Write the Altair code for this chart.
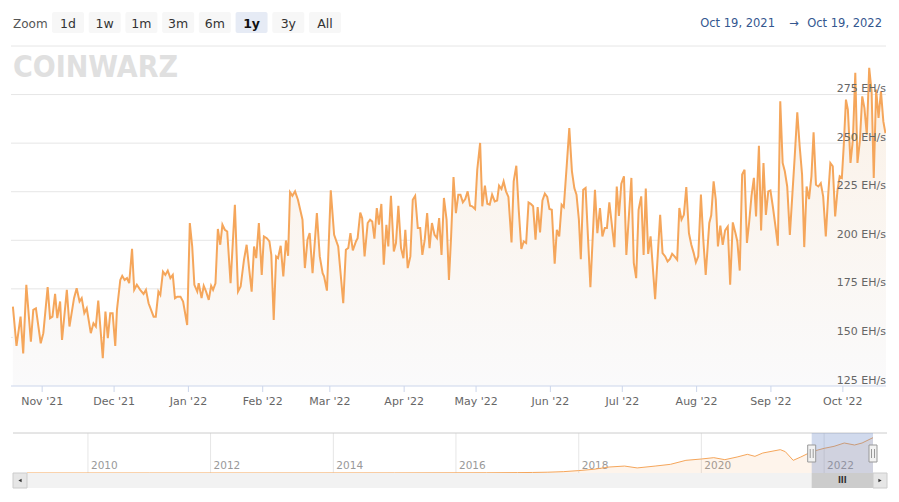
import altair as alt
import pandas as pd

# ---------------- data ----------------
READ_ORIGIN = "2021-10-19 19:00"   # day offsets below are measured from here

day_offsets = [
    0, 1.5, 3.2, 4.3, 5.6, 7.5, 8.5, 9.6, 11.6, 12.7,
    14.5, 15.5, 16.5, 17.6, 18.5, 19.7, 20.5, 22.5, 23.6, 25.5,
    26.6, 27.8, 28.7, 29.8, 30.8, 32.5, 33.6, 34.6, 35.6, 37.5,
    38.6, 39.6, 40.6, 41.6, 42.7, 43.4, 44.8, 45.6, 46.6, 47.6,
    48.5, 49.7, 50.6, 51.7, 53.1, 54.5, 55.5, 56.6, 58.7, 59.6,
    60.7, 61.5, 62.6, 63.6, 64.6, 65.7, 66.7, 67.6, 68.6, 69.9,
    71.0, 72.7, 73.8, 74.8, 75.7,
    76.9, 77.5, 78.7, 79.6, 80.6, 81.7, 82.7, 83.5, 84.5, 85.5,
    86.5, 87.4, 88.4, 89.4, 90.8, 92.6, 93.9, 95.0, 96.4, 97.5,
    98.6, 99.6, 100.6, 101.5, 102.6, 103.8, 104.7, 105.9, 107.0, 107.8,
    108.8, 109.8, 110.6, 111.7, 112.8, 113.9, 114.8, 115.6, 116.6, 117.7,
    118.9, 120.8, 121.8, 122.9, 123.8, 125.0, 126.8, 128.0, 129.2, 129.8,
    131.0, 132.6, 134.0, 135.7, 137.8, 138.9, 139.9, 140.8, 141.8, 143.1,
    143.8, 144.9, 145.7, 146.7, 148.0, 149.0, 149.9, 150.8, 151.8, 152.7,
    153.7,
    154.7, 155.8, 156.6, 157.7, 158.9, 159.8, 160.8, 161.9, 162.9, 163.7,
    164.7, 165.8, 166.8, 167.8, 168.9, 169.9, 170.8, 171.8, 172.8, 173.8,
    174.8, 175.9, 176.9, 177.8, 178.8, 179.8, 180.9, 181.9, 182.8, 183.8,
    184.8, 185.8, 186.7, 187.7, 188.7, 189.7, 190.7, 191.6, 192.8, 193.7,
    194.9, 195.8, 196.9, 197.9, 198.9, 199.9, 201.0, 202.0, 202.8, 203.8,
    204.7, 205.7, 206.7, 208.0, 208.9, 210.0, 211.0, 212.1, 213.1, 214.1,
    215.1, 216.0, 217.0, 218.0, 218.9, 219.9, 220.9, 221.9, 222.9, 223.8,
    224.8, 226.0, 226.9, 227.9, 228.9, 229.8, 231.1, 232.1, 233.2, 234.2,
    235.1, 236.1,
    236.9, 237.9, 238.9, 240.9, 242.8, 243.8, 244.9, 245.9, 246.9, 247.8,
    248.8, 250.9, 251.9, 252.8, 253.8, 254.9, 255.9, 258.0, 259.0, 260.0,
    261.0, 262.1, 263.1, 264.0, 265.0, 266.0, 267.9, 270.0, 271.0, 272.1,
    273.1, 274.1, 275.0, 276.0, 277.1, 278.0, 278.9, 279.9, 280.9, 282.0,
    283.0, 284.0, 284.9, 285.9, 287.0, 288.0, 289.0,
    290.5, 291.3, 292.3, 293.2, 294.1, 295.1, 296.1, 297.1, 298.2, 299.2,
    300.3, 301.4, 302.2, 303.2, 304.2, 305.2, 306.2, 307.1, 308.1, 309.1,
    310.0, 311.2, 312.1, 313.1, 314.1, 315.1, 316.0, 317.0, 318.1, 319.1,
    320.1, 321.1, 322.0, 323.0, 324.1, 325.1, 326.1, 327.2, 328.2, 329.2,
    330.1, 331.1, 332.1, 333.1, 334.0, 335.0, 336.0, 337.0, 338.0, 339.1,
    340.1, 341.0, 342.0, 343.0, 344.0, 344.9, 345.8, 346.6, 347.5, 348.3,
    349.4, 350.4, 351.4, 352.3, 353.3, 354.3, 355.2, 356.2, 357.2, 358.2,
    359.1, 360.1, 361.1, 362.1, 363.1, 363.9, 364.8, 365.6,
]

hashrate_ehs = [
    165.9, 145.6, 160.7, 141.8, 177.1, 147.8, 164.2, 165.0, 147.0, 152.2,
    175.9, 159.9, 160.7, 172.4, 159.9, 168.5, 148.7, 174.5, 155.6, 170.2,
    175.3, 168.5, 170.2, 162.5, 165.0, 152.2, 157.3, 155.6, 169.0, 139.3,
    163.3, 149.6, 162.5, 162.5, 145.6, 164.2, 179.6, 181.7, 179.6, 180.5,
    177.9, 195.6, 174.5, 177.1, 174.5, 172.4, 174.5, 167.6, 160.7, 160.7,
    173.6, 171.9, 183.9, 182.2, 184.4, 180.5, 182.2, 170.2, 171.0, 171.0,
    168.5, 156.4, 208.9, 196.8, 177.1,
    173.6, 177.9, 170.2, 176.6, 173.6, 169.3, 176.6, 174.5, 177.9, 205.8,
    197.7, 208.0, 205.4, 204.5, 177.9, 218.3, 173.6, 176.2, 190.0, 197.7,
    184.8, 173.6, 196.8, 190.8, 208.9, 182.2, 202.0, 201.1, 199.4, 192.5,
    159.0, 191.7, 190.8, 197.2, 181.4, 199.9, 192.0, 224.8, 222.9, 225.2,
    220.9, 210.6, 185.7, 200.3, 203.7, 183.1, 214.0, 191.7, 183.1, 181.4,
    174.1, 225.7, 202.8, 196.8, 167.6, 195.1, 196.0, 203.7, 194.8, 199.4,
    201.1, 214.3, 211.4, 191.7, 208.9, 210.6, 209.7, 200.8, 216.6, 208.0,
    218.7,
    187.4, 208.0, 196.8, 222.9, 194.2, 198.6, 217.8, 196.0, 190.8, 205.4,
    185.7, 191.7, 220.9, 222.9, 206.3, 206.3, 192.5, 200.3, 214.0, 196.0,
    208.9, 202.8, 201.1, 211.4, 192.5, 221.8, 210.6, 179.6, 202.0, 232.6,
    214.0, 223.5, 223.5, 219.5, 221.2, 225.2, 217.8, 217.5, 216.1, 236.3,
    250.1, 217.5, 228.1, 218.8, 218.3, 223.5, 220.0, 220.5, 228.1, 226.4,
    230.3, 225.2, 222.3, 198.9, 230.3, 238.4, 215.7, 195.5, 199.4, 198.6,
    219.5, 218.8, 217.5, 200.3, 217.1, 204.0, 220.5, 224.0, 222.3, 216.1,
    215.7, 187.9, 205.4, 202.0, 218.3, 217.1, 239.8, 257.8, 235.5, 226.9,
    223.5, 210.6,
    190.3, 226.0, 226.9, 175.9, 226.0, 203.7, 216.6, 202.0, 206.3, 206.3,
    219.5, 196.5, 227.7, 212.6, 229.1, 232.9, 192.5, 232.1, 188.3, 180.5,
    215.7, 222.6, 192.5, 226.6, 193.0, 202.0, 169.7, 213.1, 193.4, 191.7,
    189.1, 190.4, 193.0, 191.7, 190.0, 216.6, 210.6, 213.1, 227.4, 203.7,
    197.7, 193.4, 188.6, 191.7, 223.5, 200.3, 182.2,
    208.9, 212.9, 230.3, 220.9, 196.8, 207.6, 197.7, 205.1, 207.1, 177.1,
    209.2, 203.7, 199.4, 184.4, 233.8, 236.3, 198.6, 208.9, 222.9, 232.1,
    212.3, 248.7, 205.1, 239.8, 213.1, 225.2, 225.7, 217.4, 207.1, 197.2,
    271.6, 239.8, 235.5, 227.7, 202.8, 222.6, 242.4, 265.9, 248.4, 233.8,
    196.5, 227.7, 221.2, 232.9, 255.6, 228.6, 227.7, 229.4, 222.6, 202.0,
    223.5, 239.8, 238.1, 212.3, 226.0, 232.9, 232.1, 249.2, 272.4, 267.3,
    239.8, 251.8, 286.2, 239.8, 251.0, 274.1, 268.2, 254.4, 288.8, 276.7,
    232.1, 277.6, 263.0, 276.7, 261.2, 255.6, 256.0, 248.4,
]

nav_dates = [
    "2009-01-03", "2010-01-01", "2011-01-01", "2012-01-01", "2013-01-01",
    "2014-01-01", "2015-01-01", "2016-01-01", "2016-07-01", "2017-01-01",
    "2017-04-01", "2017-07-01", "2017-10-01", "2018-01-01", "2018-04-01",
    "2018-07-01", "2018-10-01", "2018-12-15", "2019-04-01", "2019-07-01",
    "2019-10-01", "2020-01-01", "2020-03-15", "2020-05-20", "2020-08-01",
    "2020-10-01", "2020-11-15", "2021-01-01", "2021-04-15", "2021-05-15",
    "2021-07-01", "2021-08-15", "2021-10-19", "2022-01-01", "2022-03-01",
    "2022-05-01", "2022-07-01", "2022-08-15", "2022-10-19",
]
nav_hashrate = [
    0, 0, 0, 0, 0, 0.2, 0.35, 1.2, 1.6, 3,
    4, 6, 10, 18, 28, 45, 52, 38, 52, 65,
    95, 105, 115, 100, 120, 140, 125, 150, 175, 160,
    95, 120, 160, 185, 200, 225, 210, 225, 265,
]

y_grid_values = [150, 175, 200, 225, 250, 275, 300]
y_label_values = [125, 150, 175, 200, 225, 250, 275]
y_unit = "EH/s"
month_ticks = ["2021-11-01", "2021-12-01", "2022-01-01", "2022-02-01",
               "2022-03-01", "2022-04-01", "2022-05-01", "2022-06-01",
               "2022-07-01", "2022-08-01", "2022-09-01", "2022-10-01"]
year_ticks = ["2010-01-01", "2012-01-01", "2014-01-01", "2016-01-01",
              "2018-01-01", "2020-01-01", "2022-01-01"]
zoom_label = "Zoom"
zoom_buttons = ["1d", "1w", "1m", "3m", "6m", "1y", "3y", "All"]
selected_button = "1y"
range_start = "2021-10-19"
range_end = "2022-10-19"
range_texts = ["Oct 19, 2021", "\u2192", "Oct 19, 2022"]
watermark = "COINWARZ"

# ---------------- layout / style ----------------
FONT = "DejaVu Sans"
LINE = "#f5a65b"
W, H = 875, 442
MAIN_H = 340
NAV_TOP, NAV_BOT = 387, 427
SB_BOT = 442
NAV_X0, NAV_X1 = 16, 862


def dt(s):
    t = pd.Timestamp(s)
    return alt.DateTime(year=t.year, month=t.month, date=t.day)


main_df = pd.DataFrame({
    "date": pd.Timestamp(READ_ORIGIN) + pd.to_timedelta(day_offsets, unit="D"),
    "v": hashrate_ehs,
})
nav_df = pd.DataFrame({"date": pd.to_datetime(nav_dates), "v": nav_hashrate})
grid_df = pd.DataFrame({"v": y_grid_values})
ylab_df = pd.DataFrame({"v": y_label_values,
                        "lab": [f"{v} {y_unit}" for v in y_label_values]})
month_df = pd.DataFrame({"m": pd.to_datetime(month_ticks)})
year_df = pd.DataFrame({"y": pd.to_datetime(year_ticks)})
range_df = pd.DataFrame({"s": [pd.Timestamp(range_start)], "e": [pd.Timestamp(range_end)]})
edge_df = pd.DataFrame({"d": pd.to_datetime([range_start, range_end])})
btn_df = pd.DataFrame({"b": zoom_buttons})
one = pd.DataFrame({"k": [0]})

main_x = alt.Scale(type="time", domain=[dt(range_start), dt(range_end)], range=[0, W])
main_y = alt.Scale(domain=[125, 300], range=[MAIN_H, 0], nice=False, zero=False)
nav_x = alt.Scale(type="time", domain=[dt(nav_dates[0]), dt(range_end)], range=[NAV_X0, NAV_X1])
nav_y = alt.Scale(domain=[0, 300], range=[NAV_BOT, NAV_TOP], nice=False, zero=False)
btn_x = alt.Scale(type="band", domain=zoom_buttons, range=[41, 330], paddingInner=0.13, paddingOuter=0)

gradient = alt.Gradient(
    gradient="linear",
    stops=[alt.GradientStop(color="#fbf1e6", offset=0),
           alt.GradientStop(color="#fafafb", offset=1)],
    x1=1, x2=1, y1=0, y2=1,
)

layers = []

# watermark
layers.append(alt.Chart(pd.DataFrame({"t": [watermark]})).mark_text(
    align="left", baseline="alphabetic",
    font="DejaVu Sans Condensed",
    fontSize=30, fontWeight="bold", color="#e0e0e0",
).encode(x=alt.value(2), y=alt.value(31), text="t:N"))

# main grid
layers.append(alt.Chart(grid_df).mark_rule(color="#e6e6e6", strokeWidth=1).encode(
    x=alt.value(0), x2=alt.value(W), y=alt.Y("v:Q", scale=main_y, axis=None)))

# main area + line
layers.append(alt.Chart(main_df).mark_area(clip=True, color=gradient).encode(
    x=alt.X("date:T", scale=main_x, axis=None),
    y=alt.Y("v:Q", scale=main_y, axis=None),
    y2=alt.Y2(datum=125)))
layers.append(alt.Chart(main_df).mark_line(clip=True, color=LINE, strokeWidth=2).encode(
    x=alt.X("date:T", scale=main_x, axis=None),
    y=alt.Y("v:Q", scale=main_y, axis=None)))

# x axis line
layers.append(alt.Chart(pd.DataFrame({"v": [125]})).mark_rule(color="#ccd6eb", strokeWidth=1).encode(
    x=alt.value(0), x2=alt.value(W), y=alt.Y("v:Q", scale=main_y, axis=None)))

# x ticks and labels
layers.append(alt.Chart(month_df).mark_rule(color="#ccd6eb", strokeWidth=1).encode(
    x=alt.X("m:T", scale=main_x, axis=None), y=alt.value(MAIN_H), y2=alt.value(MAIN_H + 6)))
layers.append(alt.Chart(month_df).mark_text(
    align="center", baseline="alphabetic", font=FONT, fontSize=11, color="#666666",
).encode(x=alt.X("m:T", scale=main_x, axis=None), y=alt.value(MAIN_H + 19),
         text=alt.Text("m:T", format="%b '%y")))

# y labels (drawn over the line, inside the plot on the right)
layers.append(alt.Chart(ylab_df).mark_text(
    align="right", baseline="alphabetic", dy=-2.5, font=FONT, fontSize=11, color="#666666",
).encode(x=alt.value(W), y=alt.Y("v:Q", scale=main_y, axis=None), text="lab:N"))

# ---------------- range selector toolbar ----------------
layers.append(alt.Chart(pd.DataFrame({"t": [zoom_label]})).mark_text(
    align="left", baseline="alphabetic", font=FONT, fontSize=12, color="#555555",
).encode(x=alt.value(2), y=alt.value(-18), text="t:N"))
layers.append(alt.Chart(btn_df).mark_rect(cornerRadius=2).encode(
    x=alt.X("b:N", scale=btn_x, axis=None), y=alt.value(-34), y2=alt.value(-13),
    color=alt.condition(alt.datum.b == selected_button, alt.value("#e6ebf5"), alt.value("#f7f7f7"))))
layers.append(alt.Chart(btn_df).transform_filter(alt.datum.b != selected_button).mark_text(
    baseline="middle", align="center", font=FONT, fontSize=12.5, color="#333333",
).encode(x=alt.X("b:N", scale=btn_x, axis=None), y=alt.value(-22.5), text="b:N"))
layers.append(alt.Chart(btn_df).transform_filter(alt.datum.b == selected_button).mark_text(
    baseline="middle", align="center", font=FONT, fontSize=12.5, fontWeight="bold", color="#111111",
).encode(x=alt.X("b:N", scale=btn_x, axis=None), y=alt.value(-22.5), text="b:N"))

for txt, xpos, al in [(range_texts[0], 764, "right"), (range_texts[1], 783, "center"),
                      (range_texts[2], 871, "right")]:
    layers.append(alt.Chart(pd.DataFrame({"t": [txt]})).mark_text(
        align=al, baseline="alphabetic", font=FONT, fontSize=11.5, color="#34578f",
    ).encode(x=alt.value(xpos), y=alt.value(-19), text="t:N"))

# ---------------- navigator ----------------
layers.append(alt.Chart(year_df).mark_rule(color="#e6e6e6", strokeWidth=1).encode(
    x=alt.X("y:T", scale=nav_x, axis=None), y=alt.value(NAV_TOP), y2=alt.value(NAV_BOT)))
layers.append(alt.Chart(year_df).mark_text(
    align="left", baseline="alphabetic", dx=3, font=FONT, fontSize=10.5, color="#999999",
).encode(x=alt.X("y:T", scale=nav_x, axis=None), y=alt.value(NAV_BOT - 4),
         text=alt.Text("y:T", format="%Y")))
layers.append(alt.Chart(nav_df).mark_area(color=LINE, opacity=0.12).encode(
    x=alt.X("date:T", scale=nav_x, axis=None), y=alt.Y("v:Q", scale=nav_y, axis=None),
    y2=alt.Y2(datum=0)))
layers.append(alt.Chart(nav_df).mark_line(color=LINE, strokeWidth=1).encode(
    x=alt.X("date:T", scale=nav_x, axis=None), y=alt.Y("v:Q", scale=nav_y, axis=None)))
layers.append(alt.Chart(one).mark_rule(color="#cccccc", strokeWidth=1).encode(
    x=alt.value(2), x2=alt.value(W + 1), y=alt.value(NAV_TOP)))
# selected range mask
layers.append(alt.Chart(range_df).mark_rect(color="#6685c2", opacity=0.3).encode(
    x=alt.X("s:T", scale=nav_x, axis=None), x2="e:T",
    y=alt.value(NAV_TOP), y2=alt.value(NAV_BOT)))

# scrollbar
layers.append(alt.Chart(one).mark_rect(color="#f2f2f2").encode(
    x=alt.value(NAV_X0), x2=alt.value(NAV_X1), y=alt.value(NAV_BOT), y2=alt.value(SB_BOT)))
layers.append(alt.Chart(range_df).mark_rect(color="#cccccc").encode(
    x=alt.X("s:T", scale=nav_x, axis=None), x2="e:T",
    y=alt.value(NAV_BOT), y2=alt.value(SB_BOT)))
layers.append(alt.Chart(range_df).transform_calculate(
    mid="(toDate(datum.s) + toDate(datum.e)) / 2").mark_text(
    align="center", baseline="middle", font=FONT, fontSize=8, fontWeight="bold", color="#333333",
).encode(x=alt.X("mid:T", scale=nav_x, axis=None), y=alt.value((NAV_BOT + SB_BOT) / 2),
         text=alt.value("III")))
for x0, x1 in [(2, NAV_X0), (NAV_X1, W + 1)]:
    layers.append(alt.Chart(one).mark_rect(color="#e6e6e6", stroke="#cccccc", strokeWidth=1).encode(
        x=alt.value(x0), x2=alt.value(x1), y=alt.value(NAV_BOT), y2=alt.value(SB_BOT)))
for xc, shp in [((2 + NAV_X0) / 2, "triangle-left"), ((NAV_X1 + W + 1) / 2, "triangle-right")]:
    layers.append(alt.Chart(one).mark_point(shape=shp, filled=True, size=14, color="#333333", opacity=1).encode(
        x=alt.value(xc), y=alt.value((NAV_BOT + SB_BOT) / 2)))

# navigator handles
layers.append(alt.Chart(edge_df).mark_rect(
    xOffset=-4, x2Offset=4, fill="#f2f2f2", stroke="#999999", strokeWidth=1,
).encode(x=alt.X("d:T", scale=nav_x, axis=None), x2="d:T",
         y=alt.value(NAV_TOP + 12), y2=alt.value(NAV_TOP + 29)))
for off in (-1.5, 1.5):
    layers.append(alt.Chart(edge_df).mark_rule(xOffset=off, color="#999999", strokeWidth=1).encode(
        x=alt.X("d:T", scale=nav_x, axis=None),
        y=alt.value(NAV_TOP + 16), y2=alt.value(NAV_TOP + 25)))

chart = alt.layer(*layers).resolve_scale(
    x="independent", y="independent"
).properties(
    width=W, height=H,
    autosize=alt.AutoSizeParams(type="none"),
    padding={"left": 3, "top": 38, "right": 5, "bottom": 6},
    background="white",
).configure_view(strokeWidth=0)

chart.save("out.html", embed_options={"renderer": "svg", "actions": False})
